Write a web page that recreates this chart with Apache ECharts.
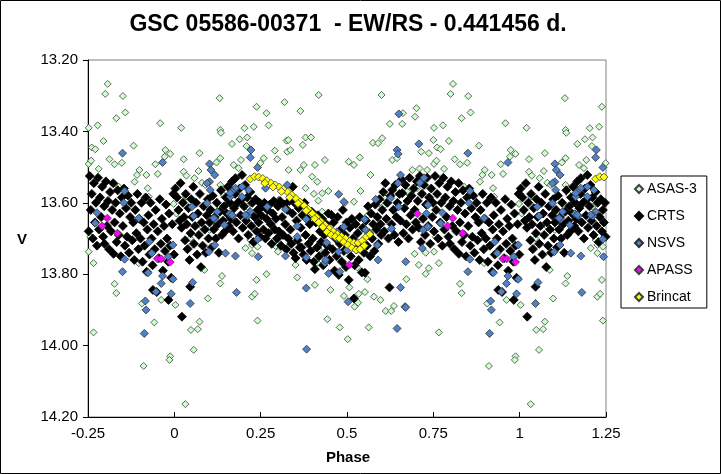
<!DOCTYPE html>
<html>
<head>
<meta charset="utf-8">
<script src="https://cdn.jsdelivr.net/npm/echarts@6/dist/echarts.min.js"></script>
<style>
    html, body { margin: 0; padding: 0; background: #fff; }
    #chart { width: 721px; height: 474px; }
</style>
</head>
<body>
<div id="chart"></div>
<script>
// phase, V magnitude (phase 0..1, folded copies are added below)
let asas3 = [
    [0.131, 13.307], [0.238, 13.331], [0.319, 13.318], [0.267, 13.349], [0.273, 13.383], [0.020, 13.39], [0.133, 13.396],
    [0.135, 13.404], [0.203, 13.391], [0.23, 13.387], [0.167, 13.435], [0.189, 13.422], [0.211, 13.417], [0.209, 13.441],
    [0.325, 13.426], [0.073, 13.461], [0.027, 13.478], [0.133, 13.475], [0.291, 13.454], [0.327, 13.457], [0.193, 13.48],
    [0.259, 13.475], [0.298, 13.478], [0.122, 13.487], [0.172, 13.494], [0.186, 13.503], [0.249, 13.489], [0.027, 13.513],
    [0.070, 13.511], [0.035, 13.524], [0.058, 13.531], [0.080, 13.544], [0.09, 13.55], [0.133, 13.55], [0.331, 13.508],
    [0.003, 13.576], [0.034, 13.583], [0.998, 13.603], [0.143, 13.578], [0.128, 13.606], [0.157, 13.597], [0.170, 13.611],
    [0.106, 13.618], [0.006, 13.63], [0.08, 13.667], [0.211, 13.611], [0.302, 13.592], [0.278, 13.625], [0.102, 13.676],
    [0.046, 13.70], [0.051, 13.718], [0.22, 13.704], [0.225, 13.718], [0.206, 13.727], [0.241, 13.723], [0.225, 13.741],
    [0.293, 13.721], [0.30, 13.737], [0.302, 13.702], [0.138, 13.805], [0.133, 13.826], [0.238, 13.816], [0.267, 13.80],
    [0.087, 13.788], [0.097, 13.868], [0.003, 13.886], [0.225, 13.863], [0.233, 13.855], [0.073, 13.933], [0.068, 13.954],
    [0.048, 13.956], [0.241, 13.93], [0.056, 14.012], [0.988, 14.03], [0.032, 14.164],
    [0.418, 13.298], [0.60, 13.298], [0.365, 13.343], [0.624, 13.379], [0.66, 13.379], [0.662, 13.349], [0.38, 13.417],
    [0.396, 13.417], [0.372, 13.438], [0.33, 13.424], [0.336, 13.452], [0.575, 13.432], [0.59, 13.433], [0.602, 13.419],
    [0.436, 13.48], [0.407, 13.494], [0.375, 13.494], [0.505, 13.485], [0.52, 13.494], [0.537, 13.473], [0.631, 13.48],
    [0.645, 13.475], [0.365, 13.508], [0.399, 13.527], [0.414, 13.541], [0.568, 13.522], [0.38, 13.559], [0.404, 13.575],
    [0.428, 13.573], [0.446, 13.567], [0.417, 13.594], [0.494, 13.60], [0.52, 13.597], [0.539, 13.567], [0.607, 13.585],
    [0.428, 13.625], [0.561, 13.634], [0.604, 13.611],
    [0.418, 13.73], [0.351, 13.774], [0.414, 13.768], [0.447, 13.755], [0.53, 13.781], [0.559, 13.814], [0.356, 13.809],
    [0.407, 13.83], [0.452, 13.844], [0.507, 13.837], [0.491, 13.861], [0.534, 13.855], [0.552, 13.85], [0.532, 13.88],
    [0.522, 13.891], [0.578, 13.863], [0.597, 13.872], [0.636, 13.889], [0.612, 13.903], [0.628, 13.903], [0.443, 13.926],
    [0.479, 13.949], [0.563, 13.949], [0.502, 13.982],
    [0.807, 13.267], [0.80, 13.295], [0.851, 13.301], [0.701, 13.335], [0.697, 13.359], [0.858, 13.347], [0.832, 13.363],
    [0.959, 13.377], [0.752, 13.39], [0.778, 13.383], [0.75, 13.424], [0.795, 13.427], [0.882, 13.44], [0.715, 13.457],
    [0.737, 13.461], [0.761, 13.445], [0.771, 13.45], [0.974, 13.452], [0.988, 13.463], [0.972, 13.471], [0.812, 13.478],
    [0.827, 13.492], [0.848, 13.488], [0.752, 13.491], [0.759, 13.482], [0.945, 13.492], [0.689, 13.508], [0.710, 13.504],
    [0.732, 13.508], [0.781, 13.505], [0.899, 13.508], [0.892, 13.522], [0.919, 13.522], [0.952, 13.519], [0.885, 13.541],
    [0.923, 13.559], [0.926, 13.583], [0.703, 13.559], [0.674, 13.569], [0.718, 13.573], [0.839, 13.555], [0.80, 13.606],
    [0.757, 13.695], [0.696, 13.743], [0.728, 13.74], [0.752, 13.737], [0.708, 13.774], [0.737, 13.783], [0.766, 13.769],
    [0.728, 13.799], [0.672, 13.814], [0.897, 13.769], [0.827, 13.827], [0.832, 13.853], [0.962, 13.872], [0.942, 13.935],
    [0.766, 13.963], [0.986, 14.04], [0.911, 14.057], [0.906, 13.882]
]

let crts = [
    [0.003, 13.56], [0.008, 13.585], [0.012, 13.62], [0.015, 13.65], [0.018, 13.545], [0.021, 13.67], [0.022, 13.919],
    [0.025, 13.60], [0.028, 13.64], [0.031, 13.705], [0.033, 13.575], [0.036, 13.66], [0.038, 13.73], [0.041, 13.615],
    [0.044, 13.76], [0.046, 13.835], [0.047, 13.685], [0.049, 13.59],
    [0.052, 13.64], [0.055, 13.555], [0.057, 13.715], [0.06, 13.665], [0.063, 13.60], [0.066, 13.745], [0.068, 13.63],
    [0.071, 13.69], [0.074, 13.575], [0.077, 13.78], [0.079, 13.655], [0.082, 13.72], [0.085, 13.61], [0.088, 13.675],
    [0.091, 13.74], [0.094, 13.635], [0.097, 13.59], [0.099, 13.70],
    [0.102, 13.655], [0.105, 13.62], [0.108, 13.725], [0.111, 13.58], [0.114, 13.675], [0.117, 13.64], [0.12, 13.70],
    [0.123, 13.60], [0.126, 13.66], [0.129, 13.74], [0.132, 13.625], [0.135, 13.565], [0.138, 13.69], [0.141, 13.65],
    [0.144, 13.61], [0.147, 13.68], [0.149, 13.585],
    [0.152, 13.63], [0.155, 13.555], [0.158, 13.665], [0.161, 13.60], [0.164, 13.645], [0.167, 13.54], [0.17, 13.68],
    [0.173, 13.615], [0.176, 13.575], [0.177, 13.531], [0.18, 13.655], [0.183, 13.60], [0.186, 13.70], [0.189, 13.56],
    [0.192, 13.635], [0.195, 13.59], [0.196, 13.522], [0.198, 13.67],
    [0.202, 13.61], [0.205, 13.55], [0.208, 13.65], [0.211, 13.585], [0.214, 13.69], [0.217, 13.63], [0.22, 13.57],
    [0.223, 13.665], [0.226, 13.60], [0.229, 13.71], [0.232, 13.64], [0.235, 13.59], [0.238, 13.68], [0.241, 13.62],
    [0.244, 13.655], [0.247, 13.60], [0.249, 13.695],
    [0.252, 13.635], [0.255, 13.61], [0.258, 13.675], [0.261, 13.60], [0.264, 13.70], [0.267, 13.645], [0.27, 13.62],
    [0.273, 13.685], [0.276, 13.605], [0.279, 13.66], [0.282, 13.715], [0.285, 13.63], [0.288, 13.595], [0.291, 13.675],
    [0.294, 13.645], [0.297, 13.70],
    [0.30, 13.61], [0.303, 13.68], [0.306, 13.595], [0.309, 13.72], [0.312, 13.64], [0.315, 13.69], [0.318, 13.605],
    [0.321, 13.66], [0.324, 13.73], [0.327, 13.62], [0.33, 13.70], [0.333, 13.595], [0.336, 13.675], [0.339, 13.715],
    [0.342, 13.63], [0.343, 13.555], [0.345, 13.74], [0.348, 13.60],
    [0.351, 13.755], [0.354, 13.65], [0.357, 13.705], [0.36, 13.615], [0.363, 13.725], [0.366, 13.67], [0.368, 13.725],
    [0.371, 13.635], [0.374, 13.745], [0.377, 13.60], [0.38, 13.69], [0.383, 13.76], [0.386, 13.645], [0.389, 13.715],
    [0.392, 13.66], [0.395, 13.735], [0.398, 13.625],
    [0.401, 13.70], [0.404, 13.765], [0.407, 13.786], [0.41, 13.655], [0.413, 13.725], [0.416, 13.635], [0.419, 13.75],
    [0.422, 13.68], [0.425, 13.71], [0.428, 13.645], [0.431, 13.775], [0.434, 13.69], [0.437, 13.74], [0.44, 13.66],
    [0.443, 13.72], [0.446, 13.63], [0.449, 13.76],
    [0.452, 13.685], [0.455, 13.634], [0.458, 13.73], [0.461, 13.655], [0.464, 13.79], [0.467, 13.70], [0.47, 13.75],
    [0.473, 13.64], [0.476, 13.802], [0.479, 13.715], [0.482, 13.675], [0.485, 13.765], [0.488, 13.62], [0.491, 13.735],
    [0.494, 13.69], [0.497, 13.78], [0.499, 13.655],
    [0.502, 13.72], [0.505, 13.816], [0.508, 13.67], [0.511, 13.75], [0.514, 13.645], [0.517, 13.70], [0.52, 13.868],
    [0.522, 13.775], [0.525, 13.66], [0.528, 13.73], [0.531, 13.685], [0.534, 13.76], [0.537, 13.64], [0.54, 13.715],
    [0.543, 13.795], [0.546, 13.67], [0.549, 13.74], [0.552, 13.796],
    [0.555, 13.65], [0.558, 13.72], [0.561, 13.61], [0.564, 13.685], [0.567, 13.75], [0.57, 13.63], [0.573, 13.70],
    [0.576, 13.66], [0.579, 13.735], [0.582, 13.605], [0.585, 13.675], [0.588, 13.64], [0.591, 13.715], [0.594, 13.59],
    [0.597, 13.66], [0.599, 13.69],
    [0.602, 13.62], [0.605, 13.57], [0.608, 13.68], [0.611, 13.545], [0.614, 13.645], [0.617, 13.60], [0.62, 13.70],
    [0.623, 13.837], [0.626, 13.58], [0.629, 13.66], [0.631, 13.564], [0.634, 13.62], [0.637, 13.69], [0.64, 13.55],
    [0.643, 13.64], [0.646, 13.60], [0.649, 13.71],
    [0.652, 13.575], [0.655, 13.65], [0.658, 13.535], [0.66, 13.573], [0.663, 13.685], [0.666, 13.615], [0.669, 13.55],
    [0.672, 13.66], [0.675, 13.595], [0.678, 13.70], [0.681, 13.53], [0.684, 13.635], [0.687, 13.58], [0.69, 13.675],
    [0.693, 13.56], [0.696, 13.62], [0.699, 13.655],
    [0.702, 13.54], [0.705, 13.595], [0.708, 13.67], [0.711, 13.525], [0.714, 13.71], [0.717, 13.575], [0.72, 13.645],
    [0.723, 13.55], [0.726, 13.69], [0.729, 13.605], [0.732, 13.53], [0.735, 13.665], [0.738, 13.585], [0.741, 13.715],
    [0.744, 13.56], [0.747, 13.64], [0.749, 13.60],
    [0.752, 13.68], [0.755, 13.525], [0.758, 13.62], [0.761, 13.575], [0.764, 13.70], [0.767, 13.545], [0.77, 13.655],
    [0.773, 13.60], [0.776, 13.72], [0.779, 13.53], [0.782, 13.675], [0.785, 13.585], [0.788, 13.64], [0.791, 13.555],
    [0.794, 13.695], [0.797, 13.61], [0.798, 13.715],
    [0.802, 13.54], [0.805, 13.665], [0.808, 13.595], [0.811, 13.73], [0.814, 13.57], [0.817, 13.68], [0.82, 13.62],
    [0.823, 13.545], [0.824, 13.743], [0.827, 13.655], [0.83, 13.60], [0.833, 13.71], [0.836, 13.565], [0.839, 13.69],
    [0.842, 13.63], [0.845, 13.75], [0.848, 13.585],
    [0.851, 13.665], [0.854, 13.56], [0.857, 13.72], [0.86, 13.615], [0.863, 13.695], [0.866, 13.58], [0.869, 13.74],
    [0.872, 13.64], [0.875, 13.60], [0.878, 13.705], [0.881, 13.655], [0.884, 13.76], [0.887, 13.62], [0.89, 13.685],
    [0.893, 13.575], [0.896, 13.73], [0.899, 13.645],
    [0.902, 13.70], [0.905, 13.60], [0.908, 13.765], [0.911, 13.655], [0.914, 13.72], [0.917, 13.585], [0.92, 13.793],
    [0.922, 13.675], [0.925, 13.635], [0.928, 13.745], [0.931, 13.60], [0.934, 13.70], [0.937, 13.775], [0.938, 13.844],
    [0.94, 13.66], [0.943, 13.73], [0.946, 13.62], [0.949, 13.85],
    [0.952, 13.68], [0.955, 13.755], [0.958, 13.59], [0.961, 13.715], [0.964, 13.645], [0.967, 13.79], [0.97, 13.665],
    [0.973, 13.735], [0.976, 13.605], [0.979, 13.70], [0.982, 13.765], [0.983, 13.872], [0.985, 13.63], [0.988, 13.72],
    [0.991, 13.81], [0.994, 13.66], [0.997, 13.575], [0.999, 13.745]
]

let nsvs = [
    [0.222, 13.452], [0.22, 13.473], [0.102, 13.491], [0.106, 13.508], [0.117, 13.522], [0.241, 13.501], [0.102, 13.541],
    [0.177, 13.559], [0.167, 13.569], [0.196, 13.555], [0.215, 13.564], [0.162, 13.583], [0.196, 13.583], [0.264, 13.559],
    [0.095, 13.601], [0.051, 13.611], [0.056, 13.637], [0.124, 13.625], [0.16, 13.631], [0.17, 13.637], [0.22, 13.625],
    [0.212, 13.637], [0.269, 13.611], [0.119, 13.646], [0.145, 13.662], [0.327, 13.55],
    [0.996, 13.718], [0.117, 13.718], [0.10, 13.737], [0.148, 13.741], [0.177, 13.749], [0.243, 13.751], [0.241, 13.702],
    [0.322, 13.749], [0.996, 13.814], [0.053, 13.823], [0.991, 13.855], [0.046, 13.882], [0.18, 13.851],
    [0.65, 13.351], [0.645, 13.452], [0.648, 13.463], [0.655, 13.522], [0.648, 13.545], [0.476, 13.576], [0.583, 13.59],
    [0.626, 13.587], [0.65, 13.611], [0.382, 13.646], [0.356, 13.665], [0.551, 13.646], [0.554, 13.676], [0.629, 13.672],
    [0.491, 13.667], [0.356, 13.695], [0.441, 13.712], [0.476, 13.737], [0.382, 13.753], [0.436, 13.768], [0.447, 13.798],
    [0.479, 13.793], [0.382, 13.839], [0.503, 13.877], [0.588, 13.718], [0.59, 13.76], [0.655, 13.837], [0.668, 13.891],
    [0.645, 13.952], [0.383, 14.01],
    [0.708, 13.435], [0.85, 13.461], [0.966, 13.487], [0.723, 13.53], [0.711, 13.544], [0.856, 13.567], [0.853, 13.60],
    [0.734, 13.606], [0.73, 13.63], [0.776, 13.628], [0.897, 13.643], [0.771, 13.657], [0.721, 13.676], [0.734, 13.667],
    [0.718, 13.727], [0.67, 13.765], [0.856, 13.758], [0.85, 13.793], [0.928, 13.709], [0.935, 13.741], [0.983, 13.751],
    [0.924, 13.796], [0.966, 13.805], [0.962, 13.826], [0.947, 13.849], [0.916, 13.875], [0.918, 13.90], [0.67, 13.893],
    [0.913, 13.966],
    [0.491, 13.597], [0.322, 13.618], [0.438, 13.76], [0.114, 13.643], [0.167, 13.634], [0.206, 13.634], [0.162, 13.573],
    [0.104, 13.564], [0.095, 13.545], [0.471, 13.681], [0.471, 13.70], [0.50, 13.732]
]

let apass = [
    [0.507, 13.774], [0.704, 13.631], [0.791, 13.665], [0.806, 13.643], [0.835, 13.685], [0.951, 13.757], [0.962, 13.757],
    [0.988, 13.766]
]

let brincat = [
    [0.220, 13.533], [0.232, 13.527], [0.244, 13.528], [0.256, 13.532], [0.268, 13.538], [0.280, 13.545], [0.292, 13.550],
    [0.304, 13.556], [0.316, 13.562], [0.328, 13.570], [0.340, 13.578], [0.352, 13.588], [0.364, 13.598], [0.376, 13.608],
    [0.388, 13.618], [0.400, 13.630], [0.412, 13.640], [0.424, 13.652], [0.436, 13.662], [0.448, 13.672], [0.460, 13.680],
    [0.472, 13.688], [0.484, 13.694], [0.496, 13.700], [0.508, 13.708], [0.520, 13.712], [0.532, 13.712], [0.544, 13.706],
    [0.556, 13.695], [0.566, 13.688],
    [0.262, 13.545], [0.286, 13.556], [0.310, 13.568], [0.334, 13.585], [0.358, 13.602], [0.382, 13.622], [0.406, 13.645],
    [0.418, 13.655], [0.430, 13.668], [0.442, 13.682], [0.454, 13.690], [0.466, 13.695], [0.478, 13.700], [0.490, 13.710],
    [0.502, 13.718], [0.514, 13.726], [0.526, 13.732], [0.538, 13.730], [0.550, 13.720]
]

let xTicks = [-0.25, 1.25, 0.25]
let yTicks = [13.2, 14.2, 0.2]

// phase plot: repeat the ends of the cycle on both sides
function fold(list) {
    let out = []
    list.forEach(function (item) {
        out.push(item)
        if (item[0] < 0.25) out.push([item[0] + 1, item[1]])
        if (item[0] > 0.75) out.push([item[0] - 1, item[1]])
    })
    return out
}

let font = "Liberation Sans, Arial, sans-serif"

function series(name, list, size, fill, border) {
    return {
        name: name,
        type: "scatter",
        symbol: "diamond",
        symbolSize: size,
        data: fold(list),
        itemStyle: {color: fill, borderColor: border, borderWidth: 0.8, opacity: 1},
        emphasis: {disabled: true}
    }
}

let chart = echarts.init(document.getElementById("chart"), null, {renderer: "canvas"})

let option = {
    animation: false,
    backgroundColor: "#fff",
    grid: {left: 88, right: 115, top: 60, bottom: 57, show: true, borderColor: "#808080", borderWidth: 1},
    xAxis: {
        type: "value",
        min: xTicks[0],
        max: xTicks[1],
        interval: xTicks[2],
        axisLine: {onZero: false, lineStyle: {color: "#000"}},
        axisTick: {inside: true, length: 5, lineStyle: {color: "#000"}},
        axisLabel: {color: "#000", fontFamily: font, fontSize: 15, margin: 9},
        splitLine: {show: false}
    },
    yAxis: {
        type: "value",
        inverse: true,
        min: yTicks[0],
        max: yTicks[1],
        interval: yTicks[2],
        axisLine: {show: true, onZero: false, lineStyle: {color: "#000"}},
        axisTick: {show: true, length: 5, lineStyle: {color: "#000"}},
        axisLabel: {
            color: "#000", fontFamily: font, fontSize: 15, margin: 10,
            formatter: function (v) { return v.toFixed(2) }
        },
        splitLine: {show: false}
    },
    legend: {
        orient: "vertical",
        left: 621,
        top: 176,
        data: ["ASAS-3", "CRTS", "NSVS", "APASS", "Brincat"],
        itemWidth: 8,
        itemHeight: 8,
        itemGap: 13,
        padding: [6, 10, 4, 13],
        borderColor: "#000",
        borderWidth: 1,
        selectedMode: false,
        textStyle: {color: "#000", fontFamily: font, fontSize: 14, padding: [0, 0, 0, -1]}
    },
    graphic: [
        {type: "rect", shape: {x: 0.5, y: 0.5, width: 720, height: 473}, style: {fill: "none", stroke: "#000", lineWidth: 1}, silent: true},
        {type: "text", x: 348, y: 25, style: {text: "GSC 05586-00371  - EW/RS - 0.441456 d.", font: "bold 23px " + font, fill: "#000", textAlign: "center", textVerticalAlign: "middle"}},
        {type: "text", x: 22, y: 240, style: {text: "V", font: "bold 15px " + font, fill: "#000", textAlign: "center", textVerticalAlign: "middle"}},
        {type: "text", x: 348, y: 458, style: {text: "Phase", font: "bold 15px " + font, fill: "#000", textAlign: "center", textVerticalAlign: "middle"}}
    ],
    series: [
        series("ASAS-3", asas3, 7, "#ccffcc", "#404040"),
        series("CRTS", crts, 9, "#000", "#000"),
        series("NSVS", nsvs, 8, "#4f81c9", "#303030"),
        series("APASS", apass, 8, "#ff00ff", "#404040"),
        series("Brincat", brincat, 8, "#ffff00", "#404040")
    ]
}
chart.setOption(option)
</script>
</body>
</html>
